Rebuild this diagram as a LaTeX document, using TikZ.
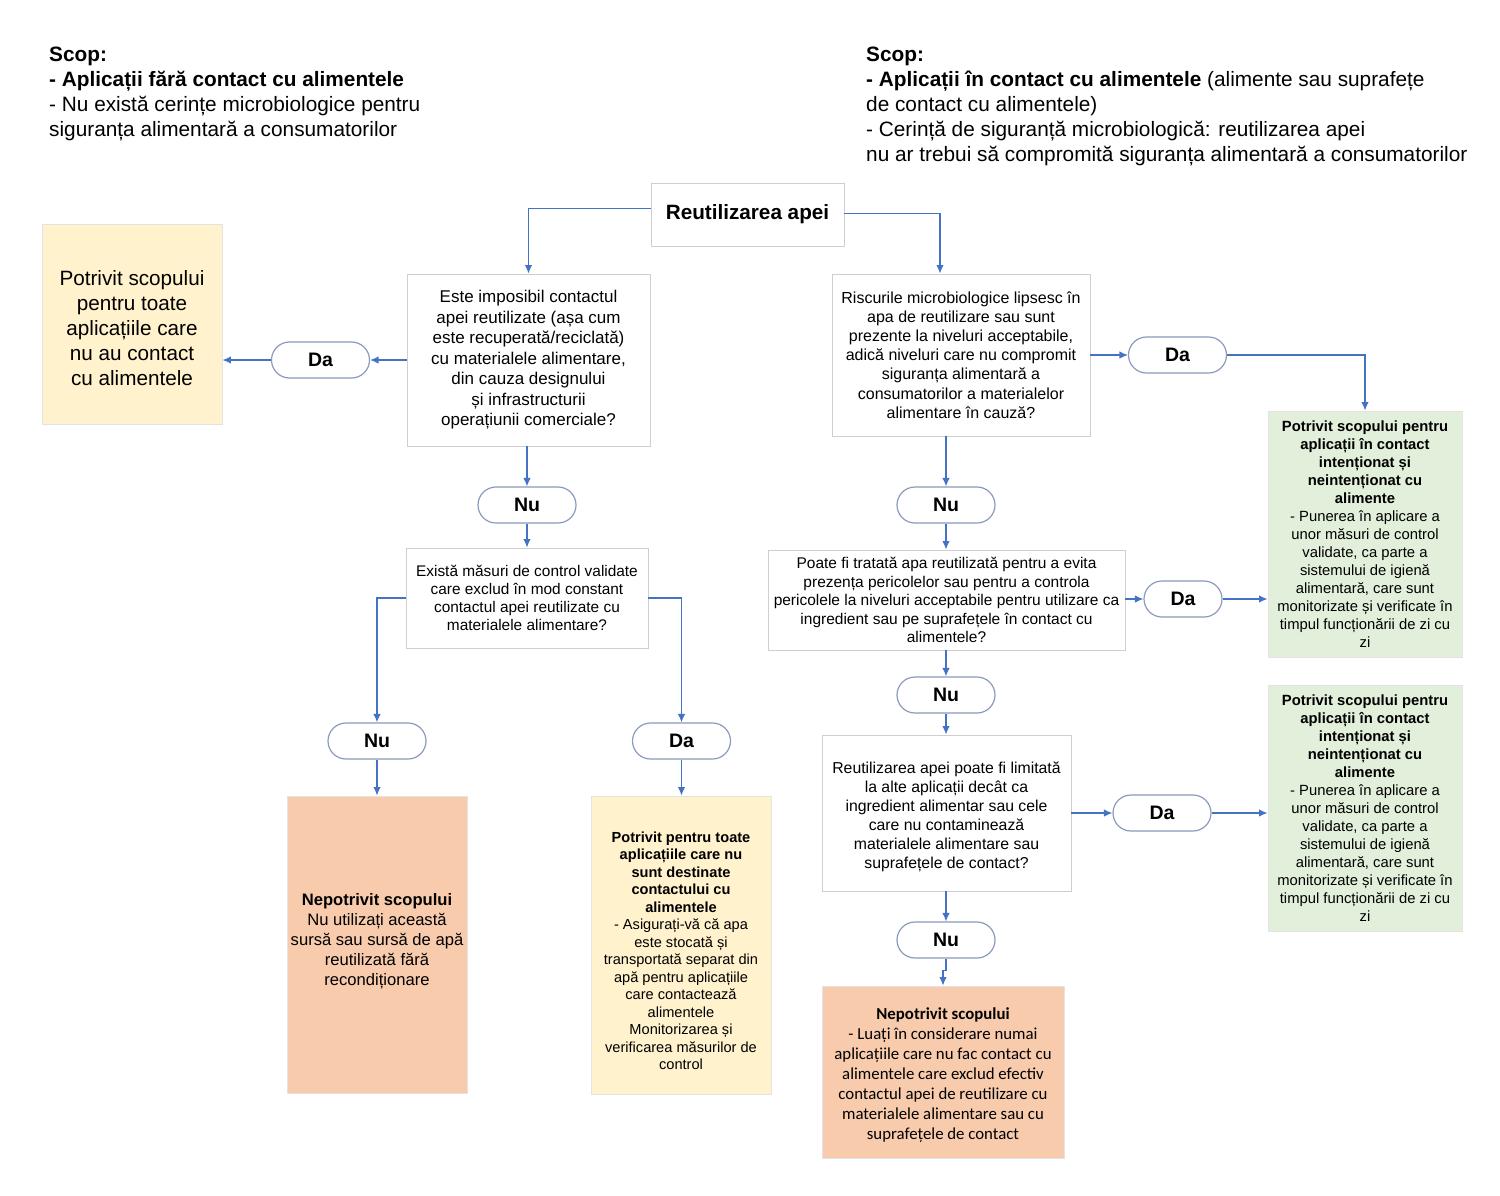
\documentclass[tikz,border=0pt]{standalone}
\usepackage{fontspec}
\setmainfont{Liberation Sans}
\newfontfamily\carlitofont{Carlito}
\usetikzlibrary{arrows.meta,shapes.misc}
\definecolor{arr}{HTML}{4472C4}
\definecolor{boxgray}{HTML}{CFCFCF}
\definecolor{pillc}{HTML}{8A9BBD}
\definecolor{yel}{HTML}{FFF2CC}
\definecolor{ora}{HTML}{F8CBAD}
\definecolor{gre}{HTML}{E2EFDA}
\definecolor{litb}{HTML}{E3E3E3}
\begin{document}
\begin{tikzpicture}[x=1pt,y=-1pt,
  box/.style={draw=boxgray, line width=0.9pt, fill=white, inner sep=0pt, align=center},
  cbox/.style={draw=litb, line width=0.9pt, inner sep=0pt, align=center},
  txt/.style={inner sep=0pt, align=center},
  pill/.style={rounded rectangle, draw=pillc, line width=1.2pt, fill=white, minimum width=98, minimum height=36, inner sep=0pt, font=\bfseries\fontsize{19.5}{23}\selectfont},
  arrow/.style={draw=arr, line width=1.3pt, -{Latex[length=8.5pt,width=7.5pt]}},
  hdr/.style={anchor=north west, align=left, inner sep=0pt, font=\fontsize{20.8}{25}\selectfont}]
\fill[white] (0,0) rectangle (1500,1195);
\useasboundingbox (0,0) rectangle (1500,1195);

% headers
\node[hdr] (hl) at (49,47) {\textbf{Scop:}\\ \textbf{- Aplicații fără contact cu alimentele}\\ - Nu există cerințe microbiologice pentru\\ siguranța alimentară a consumatorilor};
\node[hdr] (hr) at (866,47) {\textbf{Scop:}\\ \textbf{- Aplicații în contact cu alimentele} (alimente sau suprafețe\\ de contact cu alimentele)\\ - Cerință de siguranță microbiologică: reutilizarea apei\\ nu ar trebui să compromită siguranța alimentară a consumatorilor};

% boxes
\node[box, minimum width=193, minimum height=63, font=\bfseries\fontsize{20.7}{24}\selectfont] (start) at (747.5,214.5) {Reutilizarea apei};

\node[box, minimum width=243, minimum height=172, font=\fontsize{17}{20.5}\selectfont] (q1) at (528.5,360) {Este imposibil contactul\\ apei reutilizate (așa cum\\ este recuperată/reciclată)\\ cu materialele alimentare,\\ din cauza designului\\ și infrastructurii\\ operațiunii comerciale?};

\node[cbox, fill=yel, minimum width=180, minimum height=200] (yl) at (132,324) {};
\node[txt, font=\fontsize{20.7}{25}\selectfont] (ylt) at ([yshift=-4pt]yl.center) {Potrivit scopului\\ pentru toate\\ aplicațiile care\\ nu au contact\\ cu alimentele};

\node[pill] (daL) at (320.5,360) {Da};

\node[box, minimum width=258, minimum height=162, font=\fontsize{16}{19.2}\selectfont] (q2) at (961,355) {Riscurile microbiologice lipsesc în\\ apa de reutilizare sau sunt\\ prezente la niveluri acceptabile,\\ adică niveluri care nu compromit\\ siguranța alimentară a\\ consumatorilor a materialelor\\ alimentare în cauză?};

\node[pill] (da3) at (1177.5,355) {Da};

\node[cbox, fill=gre, minimum width=194, minimum height=246, font=\fontsize{14.8}{18}\selectfont] (g1) at (1365,534) {\textbf{Potrivit scopului pentru}\\ \textbf{aplicații în contact}\\ \textbf{intenționat și}\\ \textbf{neintenționat cu}\\ \textbf{alimente}\\ - Punerea în aplicare a\\ unor măsuri de control\\ validate, ca parte a\\ sistemului de igienă\\ alimentară, care sunt\\ monitorizate și verificate în\\ timpul funcționării de zi cu\\ zi};

\node[pill] (nu1) at (527,505) {Nu};

\node[box, minimum width=242, minimum height=100, font=\fontsize{15.4}{18}\selectfont] (q3) at (527,598) {Există măsuri de control validate\\ care exclud în mod constant\\ contactul apei reutilizate cu\\ materialele alimentare?};

\node[pill] (nu2) at (377,741) {Nu};
\node[pill] (da2) at (681.5,741) {Da};

\node[cbox, fill=ora, minimum width=180, minimum height=297] (or1) at (377,944.5) {};
\node[txt, font=\fontsize{16.6}{20}\selectfont] (or1t) at ([yshift=3pt]or1.center) {\textbf{Nepotrivit scopului}\\ Nu utilizați această\\ sursă sau sursă de apă\\ reutilizată fără\\ recondiționare};

\node[cbox, fill=yel, minimum width=180, minimum height=298] (y2) at (681,945) {};
\node[txt, font=\fontsize{14.6}{17.5}\selectfont] (y2t) at ([yshift=-6pt]y2.center) {\textbf{Potrivit pentru toate}\\ \textbf{aplicațiile care nu}\\ \textbf{sunt destinate}\\ \textbf{contactului cu}\\ \textbf{alimentele}\\ - Asigurați-vă că apa\\ este stocată și\\ transportată separat din\\ apă pentru aplicațiile\\ care contactează\\ alimentele\\ Monitorizarea și\\ verificarea măsurilor de\\ control};

\node[pill] (nu3) at (946,505) {Nu};

\node[box, minimum width=357, minimum height=100, font=\fontsize{15.5}{18.5}\selectfont] (q4) at (946.5,600) {Poate fi tratată apa reutilizată pentru a evita\\ prezența pericolelor sau pentru a controla\\ pericolele la niveluri acceptabile pentru utilizare ca\\ ingredient sau pe suprafețele în contact cu\\ alimentele?};

\node[pill, minimum width=78] (da4) at (1183,599) {Da};

\node[pill] (nu4) at (946,695) {Nu};

\node[box, minimum width=249, minimum height=156] (q5) at (946.5,813) {};
\node[txt, font=\fontsize{15.8}{19}\selectfont] (q5t) at ([yshift=-4pt]q5.center) {Reutilizarea apei poate fi limitată\\ la alte aplicații decât ca\\ ingredient alimentar sau cele\\ care nu contaminează\\ materialele alimentare sau\\ suprafețele de contact?};

\node[pill] (da5) at (1162,813) {Da};

\node[cbox, fill=gre, minimum width=194, minimum height=246, font=\fontsize{14.8}{18}\selectfont] (g2) at (1365,808) {\textbf{Potrivit scopului pentru}\\ \textbf{aplicații în contact}\\ \textbf{intenționat și}\\ \textbf{neintenționat cu}\\ \textbf{alimente}\\ - Punerea în aplicare a\\ unor măsuri de control\\ validate, ca parte a\\ sistemului de igienă\\ alimentară, care sunt\\ monitorizate și verificate în\\ timpul funcționării de zi cu\\ zi};

\node[pill] (nu5) at (946,940) {Nu};

\node[cbox, fill=ora, minimum width=242, minimum height=172] (or2) at (943,1072) {};
\node[txt, font=\carlitofont\fontsize{16.8}{20}\selectfont] (or2t) at ([yshift=-3pt]or2.center) {\textbf{Nepotrivit scopului}\\ - Luați în considerare numai\\ aplicațiile care nu fac contact cu\\ alimentele care exclud efectiv\\ contactul apei de reutilizare cu\\ materialele alimentare sau cu\\ suprafețele de contact};

% connectors
\coordinate (q2in) at ([xshift=-21pt]q2.north);
\draw[arrow] ([yshift=6pt]start.west) -| (q1.north);
\draw[arrow] ([yshift=1pt]start.east) -| (q2in);
\draw[arrow] (q1.west) -- (daL.east);
\draw[arrow] (daL.west) -- (yl.east |- daL.west);
\draw[arrow] (q1.south -| nu1.north) -- (nu1.north);
\draw[arrow] (nu1.south) -- (q3.north -| nu1.south);
\draw[arrow] (q3.west) -| (nu2.north);
\draw[arrow] (q3.east) -| (da2.north);
\draw[arrow] (nu2.south) -- (or1.north -| nu2.south);
\draw[arrow] (da2.south) -- (y2.north -| da2.south);
\draw[arrow] (q2.east) -- (da3.west);
\draw[arrow] (da3.east) -| (g1.north);
\draw[arrow] (q2.south -| nu3.north) -- (nu3.north);
\draw[arrow] (nu3.south) -- (q4.north -| nu3.south);
\draw[arrow] (q4.east |- da4.west) -- (da4.west);
\draw[arrow] (da4.east) -- (da4.east -| g1.west);
\draw[arrow] (q4.south -| nu4.north) -- (nu4.north);
\draw[arrow] (nu4.south) -- (q5.north -| nu4.south);
\draw[arrow] (q5.east) -- (da5.west);
\draw[arrow] (da5.east) -- (da5.east -| g2.west);
\draw[arrow] (q5.south -| nu5.north) -- (nu5.north);
\draw[arrow] (nu5.south) -- ++(0,12) -| (or2.north);
\end{tikzpicture}
\end{document}
